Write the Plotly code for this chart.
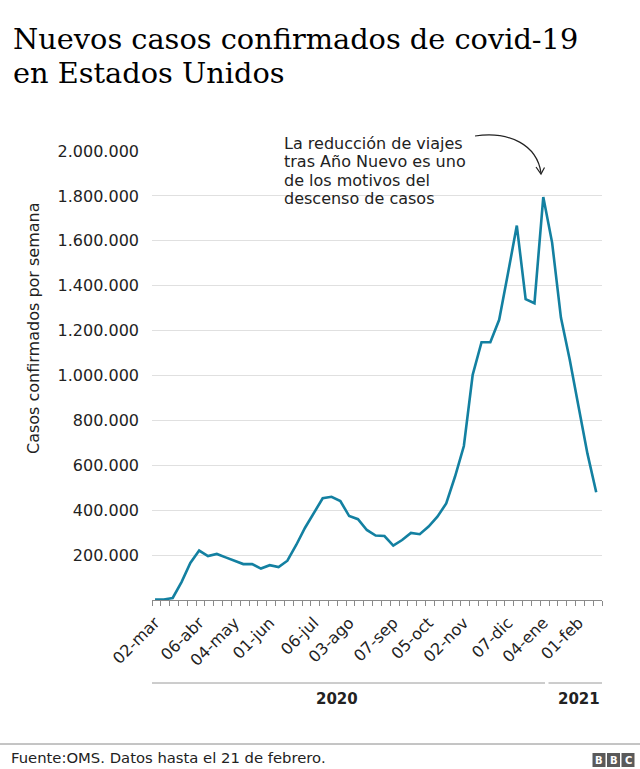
import plotly.graph_objects as go
import pandas as pd

# ---- data ----
week_start = "2020-03-02"
n_weeks = 51
weeks = pd.date_range(week_start, periods=n_weeks, freq="7D")
cases = [1500, 2500, 9000, 80000, 165000, 220000, 196000, 205000, 190000, 175000,
         160000, 160000, 140000, 155000, 147000, 175000, 245000, 322000, 389000, 453000,
         460000, 441000, 374000, 360000, 312000, 287000, 285000, 242000, 267000, 299000,
         293000, 327000, 371000, 430000, 550000, 686000, 1003000, 1148000, 1148000, 1248000,
         1455000, 1668000, 1340000, 1322000, 1795000, 1592000, 1258000, 1070000, 861000,
         653000, 480000]
tick_dates = ["2020-03-02", "2020-04-06", "2020-05-04", "2020-06-01", "2020-07-06",
              "2020-08-03", "2020-09-07", "2020-10-05", "2020-11-02", "2020-12-07",
              "2021-01-04", "2021-02-01"]
tick_labels = ["02-mar", "06-abr", "04-may", "01-jun", "06-jul", "03-ago", "07-sep",
               "05-oct", "02-nov", "07-dic", "04-ene", "01-feb"]
y_ticks = [200000, 400000, 600000, 800000, 1000000, 1200000, 1400000, 1600000,
           1800000, 2000000]
y_labels = ["200.000", "400.000", "600.000", "800.000", "1.000.000", "1.200.000",
            "1.400.000", "1.600.000", "1.800.000", "2.000.000"]

title_lines = ["Nuevos casos confirmados de covid-19", "en Estados Unidos"]
note_lines = ["La reducción de viajes", "tras Año Nuevo es uno",
              "de los motivos del", "descenso de casos"]
y_title = "Casos confirmados por semana"
source = "Fuente:OMS. Datos hasta el 21 de febrero."

# ---- layout geometry (pixels) ----
W, H = 640, 769
L, R, T, B = 152, 602, 151, 600


def px(x):
    return (x - L) / (R - L)


def py(y):
    return (B - y) / (B - T)


SANS = "DejaVu Sans"
TXT = "#222222"

fig = go.Figure()
fig.add_trace(go.Scatter(x=weeks, y=cases, mode="lines",
                         line=dict(color="#1380A1", width=2.6),
                         hoverinfo="skip", showlegend=False))

ann = []
for i, t in enumerate(title_lines):
    ann.append(dict(text=t, x=px(11), y=py(39 + i * 34), xref="paper", yref="paper",
                    xanchor="left", yanchor="middle", showarrow=False,
                    font=dict(family="DejaVu Serif", size=28.8, color="#000000")))
for i, t in enumerate(note_lines):
    ann.append(dict(text=t, x=px(282), y=py(143 + i * 18.6), xref="paper", yref="paper",
                    xanchor="left", yanchor="middle", showarrow=False,
                    font=dict(family=SANS, size=16, color=TXT)))
ann.append(dict(text=y_title, x=px(33), y=py(328), xref="paper", yref="paper",
                xanchor="center", yanchor="middle", textangle=-90, showarrow=False,
                font=dict(family=SANS, size=16, color=TXT)))
ann.append(dict(text="<b>2020</b>", x=px(337), y=py(699), xref="paper", yref="paper",
                xanchor="center", yanchor="middle", showarrow=False,
                font=dict(family=SANS, size=15, color=TXT)))
ann.append(dict(text="<b>2021</b>", x=px(579), y=py(699), xref="paper", yref="paper",
                xanchor="center", yanchor="middle", showarrow=False,
                font=dict(family=SANS, size=15, color=TXT)))
ann.append(dict(text=source, x=px(9), y=py(757), xref="paper", yref="paper",
                xanchor="left", yanchor="middle", showarrow=False,
                font=dict(family=SANS, size=14.8, color=TXT)))
for i, ch in enumerate("BBC"):
    ann.append(dict(text="<b>" + ch + "</b>", x=px(599 + i * 14.5), y=py(760),
                    xref="paper", yref="paper", xanchor="center", yanchor="middle",
                    showarrow=False, font=dict(family=SANS, size=10, color="white")))

shapes = []
# year separator lines
shapes.append(dict(type="line", xref="paper", yref="paper", x0=px(152), x1=px(545),
                   y0=py(683), y1=py(683), line=dict(color="#9a9a9a", width=1)))
shapes.append(dict(type="line", xref="paper", yref="paper", x0=px(548.5), x1=px(602),
                   y0=py(683), y1=py(683), line=dict(color="#9a9a9a", width=1)))
# footer line
shapes.append(dict(type="line", xref="paper", yref="paper", x0=px(0), x1=px(640),
                   y0=py(744), y1=py(744), line=dict(color="#8a8a8a", width=1)))
# BBC blocks
for i in range(3):
    shapes.append(dict(type="rect", xref="paper", yref="paper",
                       x0=px(592.5 + i * 14.5), x1=px(605.5 + i * 14.5),
                       y0=py(767), y1=py(753), fillcolor="#5a5a5a", line=dict(width=0)))
# curved arrow
shapes.append(dict(type="path", xref="paper", yref="paper",
                   path=f"M {px(475)},{py(136)} C {px(510)},{py(131)} {px(537)},{py(145)} {px(541)},{py(173)}",
                   line=dict(color="#222222", width=1.2)))
shapes.append(dict(type="path", xref="paper", yref="paper",
                   path=f"M {px(536)},{py(167)} L {px(541)},{py(174)} L {px(544.5)},{py(167.5)}",
                   line=dict(color="#222222", width=1.2)))

fig.update_layout(
    width=W, height=H,
    margin=dict(l=L, r=W - R, t=T, b=H - B, pad=0),
    paper_bgcolor="white", plot_bgcolor="white",
    annotations=ann, shapes=shapes,
    xaxis=dict(
        type="date",
        range=["2020-02-28 14:00", "2021-02-19 14:00"],
        tickmode="array", tickvals=tick_dates, ticktext=tick_labels,
        tickangle=-45, ticks="", showgrid=False,
        tickfont=dict(family=SANS, size=16, color=TXT),
        showline=True, linecolor="#8a8a8a", linewidth=1.2,
        ticklabelstandoff=6,
        minor=dict(tickmode="linear", tick0="2020-02-28 14:00", dtick=7 * 86400000,
                   ticks="outside", ticklen=5, tickcolor="#8a8a8a", tickwidth=1,
                   showgrid=False),
        fixedrange=True,
    ),
    yaxis=dict(
        range=[0, 2000000],
        tickmode="array", tickvals=y_ticks, ticktext=y_labels,
        showgrid=True, gridcolor="#e0e0e0", gridwidth=1,
        zeroline=False, showline=False, ticks="",
        tickfont=dict(family=SANS, size=16, color=TXT),
        ticklabelstandoff=12,
        fixedrange=True,
    ),
)

fig.write_html("out.html", config={"displayModeBar": False},
               post_script="document.body.style.margin='0';document.body.style.overflow='hidden';")
